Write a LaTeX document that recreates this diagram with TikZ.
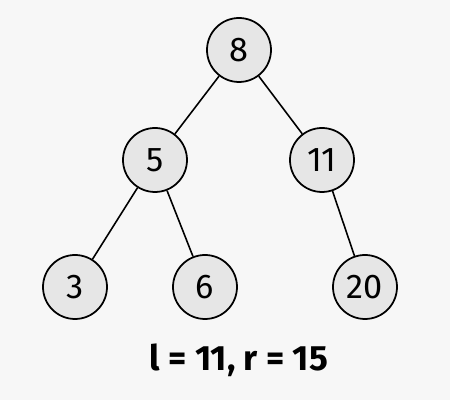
\documentclass[tikz,border=0pt]{standalone}
\usepackage{fontspec}
\setmainfont{Fira Sans}
\usepackage{xcolor}
\usetikzlibrary{arrows.meta, positioning}
\definecolor{bgcol}{HTML}{F7F7F7}
\definecolor{nodecol}{HTML}{E6E6E6}
\tikzset{
  vtx/.style={circle, draw, line width=1pt, fill=nodecol, minimum size=1.28cm, inner sep=0pt, font=\fontsize{19.5}{22}\selectfont},
  edge/.style={line width=0.9pt}
}

\begin{document}
\begin{tikzpicture}
\fill[bgcol] (0,0) rectangle (9,8);
\useasboundingbox (0,0) rectangle (9,8);
\node[vtx] (n8) at (4.78,7.0) {8};
\node[vtx] (n5) at (3.10,4.80) {5};
\node[vtx] (n11) at (6.44,4.80) {11};
\node[vtx] (n3) at (1.50,2.26) {3};
\node[vtx] (n6) at (4.10,2.26) {6};
\node[vtx] (n20) at (7.30,2.26) {20};
\draw[edge] (n8) -- (n5);
\draw[edge] (n8) -- (n11);
\draw[edge] (n5) -- (n3);
\draw[edge] (n5) -- (n6);
\draw[edge] (n11) -- (n20);
\node[font=\fontsize{20}{24}\selectfont\bfseries] (lbl) at (4.78,0.8) {l = 11, r = 15};
\end{tikzpicture}
\end{document}
